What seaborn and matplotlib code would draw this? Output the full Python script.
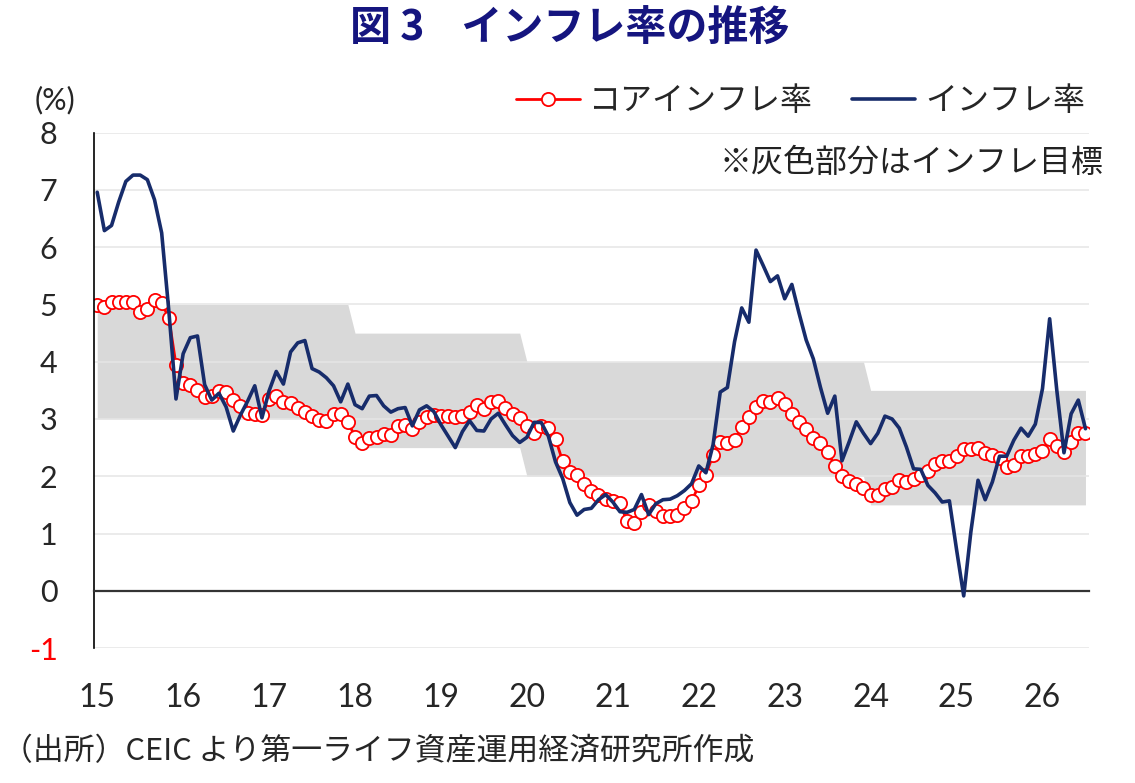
import numpy as np
import pandas as pd
import seaborn as sns
import matplotlib
matplotlib.use("Agg")
import matplotlib.pyplot as plt

# monthly YoY, Jan 2015 - Jul 2026
start_year = 15
headline = [
    6.96, 6.29, 6.38, 6.79, 7.15, 7.26, 7.26, 7.18, 6.83, 6.25, 4.89, 3.35,  # 2015
    4.14, 4.42, 4.45, 3.60, 3.33, 3.45, 3.21, 2.79, 3.07, 3.31, 3.58, 3.02,  # 2016
    3.49, 3.83, 3.61, 4.17, 4.33, 4.37, 3.88, 3.82, 3.72, 3.58, 3.30, 3.61,  # 2017
    3.25, 3.18, 3.40, 3.41, 3.23, 3.12, 3.18, 3.20, 2.88, 3.16, 3.23, 3.13,  # 2018
    2.90, 2.70, 2.50, 2.78, 2.97, 2.80, 2.79, 3.00, 3.10, 2.90, 2.71, 2.59,  # 2019
    2.68, 2.94, 2.94, 2.70, 2.25, 1.96, 1.54, 1.32, 1.42, 1.44, 1.59, 1.68,  # 2020
    1.55, 1.38, 1.37, 1.42, 1.68, 1.33, 1.52, 1.59, 1.60, 1.66, 1.75, 1.87,  # 2021
    2.18, 2.06, 2.55, 3.47, 3.55, 4.35, 4.94, 4.69, 5.95, 5.68, 5.40, 5.50,  # 2022
    5.10, 5.35, 4.85, 4.38, 4.05, 3.55, 3.10, 3.40, 2.27, 2.60, 2.95, 2.75,  # 2023
    2.57, 2.75, 3.05, 3.00, 2.84, 2.51, 2.13, 2.12, 1.84, 1.71, 1.55, 1.57,  # 2024
    0.72, -0.09, 1.03, 1.93, 1.59, 1.90, 2.35, 2.35, 2.63, 2.84, 2.70, 2.91,  # 2025
    3.53, 4.75, 3.50, 2.41, 3.09, 3.33, 2.83,                                # 2026
]
core = [
    4.99, 4.96, 5.04, 5.04, 5.04, 5.04, 4.86, 4.92, 5.07, 5.02, 4.77, 3.95,  # 2015
    3.62, 3.59, 3.50, 3.39, 3.41, 3.49, 3.47, 3.34, 3.22, 3.10, 3.08, 3.07,  # 2016
    3.35, 3.41, 3.30, 3.28, 3.20, 3.13, 3.05, 2.98, 2.97, 3.09, 3.08, 2.95,  # 2017
    2.69, 2.58, 2.67, 2.69, 2.73, 2.72, 2.87, 2.90, 2.82, 2.94, 3.03, 3.07,  # 2018
    3.06, 3.06, 3.03, 3.05, 3.12, 3.25, 3.18, 3.30, 3.32, 3.20, 3.08, 3.02,  # 2019
    2.88, 2.76, 2.87, 2.85, 2.65, 2.26, 2.07, 2.03, 1.86, 1.74, 1.67, 1.60,  # 2020
    1.56, 1.53, 1.21, 1.18, 1.37, 1.49, 1.40, 1.31, 1.30, 1.33, 1.44, 1.56,  # 2021
    1.84, 2.03, 2.37, 2.60, 2.58, 2.63, 2.86, 3.04, 3.21, 3.31, 3.30, 3.36,  # 2022
    3.27, 3.09, 2.94, 2.83, 2.66, 2.58, 2.43, 2.18, 2.00, 1.91, 1.87, 1.80,  # 2023
    1.68, 1.68, 1.77, 1.82, 1.93, 1.90, 1.95, 2.02, 2.09, 2.21, 2.26, 2.26,  # 2024
    2.36, 2.48, 2.48, 2.50, 2.40, 2.37, 2.32, 2.17, 2.19, 2.36, 2.36, 2.38,  # 2025
    2.44, 2.65, 2.53, 2.43, 2.59, 2.75, 2.76,                                # 2026
]
# inflation target band per calendar year 2015..2026
target_hi = [5, 5, 5, 4.5, 4.5, 4, 4, 4, 4, 3.5, 3.5, 3.5]
target_lo = [3, 3, 3, 2.5, 2.5, 2, 2, 2, 2, 1.5, 1.5, 1.5]
years = list(range(15, 27))
year_labels = [str(y) for y in years]
yticks = list(range(-1, 9))
ylabels = [str(v) for v in yticks]

n = len(headline)
df = pd.DataFrame({
    "t": start_year + (np.arange(n) + 0.5) / 12,
    "headline": headline,
    "core": core,
    "lo": np.repeat(target_lo, 12)[:n],
    "hi": np.repeat(target_hi, 12)[:n],
})

sns.set_style("white")
plt.rcParams["font.family"] = ["Lato", "Noto Sans CJK JP", "DejaVu Sans"]
JP = ["Noto Sans CJK JP", "DejaVu Sans"]

fig = plt.figure(figsize=(11.35, 7.83), dpi=100)
ax = fig.add_axes([0.0825, 0.1724, 0.877, 0.6581])

ax.fill_between(df["t"], df["lo"], df["hi"], color="#D9D9D9", lw=0, zorder=0.1)

sns.lineplot(data=df, x="t", y="core", color="#FF0000", lw=2, marker="o",
             markersize=9.5, markerfacecolor="white", markeredgecolor="#FF0000",
             markeredgewidth=1.3, label="コアインフレ率", ax=ax, zorder=2)
sns.lineplot(data=df, x="t", y="headline", color="#172C6B", lw=2.6,
             label="インフレ率", ax=ax, zorder=3)

ax.set_xlim(15, 26 + 7 / 12)
ax.set_ylim(-1, 8)
ax.set_xlabel("")
ax.set_ylabel("")

ax.set_axisbelow(True)
ax.set_yticks(yticks, labels=ylabels)
ax.grid(axis="y", color="#E6E6E6", lw=1.1)
ax.tick_params(axis="y", length=0, labelsize=22, pad=26)
for lab in ax.get_yticklabels():
    if lab.get_text() == "-1":
        lab.set_color("#FF0000")

for s in ["top", "right"]:
    ax.spines[s].set_visible(False)
ax.spines["left"].set_color("black")
ax.spines["left"].set_linewidth(1.2)
ax.spines["bottom"].set_position(("data", 0))
ax.spines["bottom"].set_color("#333333")
ax.spines["bottom"].set_linewidth(1.6)
ax.set_xticks(years)
ax.tick_params(axis="x", direction="in", length=9.5, width=1.1, color="#333333",
               labelbottom=False)

sec = ax.secondary_xaxis("bottom")
sec.set_xticks([y + 0.5 / 12 for y in years], labels=year_labels)
sec.tick_params(length=0, labelsize=23, pad=25)
sec.spines["bottom"].set_visible(False)

ax.legend(loc="center right", bbox_to_anchor=(0.996, 1.0615), ncol=2,
          frameon=False, prop={"family": JP, "size": 23}, handlelength=2.0,
          handletextpad=0.3, columnspacing=1.2, borderaxespad=0, borderpad=0)

fig.text(0.502, 1 - 28.5 / 783, "図 3    インフレ率の推移", ha="center", va="center",
         fontsize=29.5, fontweight="bold", color="#15157F", family=JP)
fig.text(35 / 1135, 1 - 100 / 783, "(%)", ha="left", va="center", fontsize=22)
fig.text(1104 / 1135, 1 - 163 / 783, "※灰色部分はインフレ目標", ha="right",
         va="center", fontsize=23, family=JP, color="#222222")
fig.text(2 / 1135, 1 - 752 / 783, "（出所）CEIC より第一ライフ資産運用経済研究所作成",
         ha="left", va="center", fontsize=22.2, family=JP)

fig.savefig("out.png", dpi=100)
